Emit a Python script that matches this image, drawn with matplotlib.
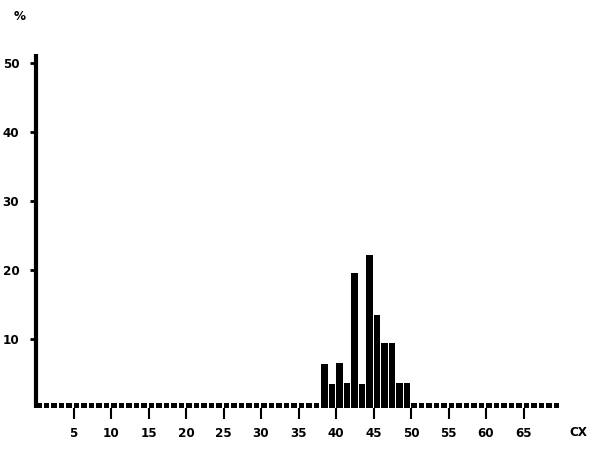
import matplotlib
matplotlib.use("Agg")
import matplotlib.pyplot as plt
import numpy as np

# Data: percentage per 1-cm class (class start in cm)
class_start = list(range(38, 50))
percent = [6.4, 3.5, 6.5, 3.6, 19.6, 3.5, 22.2, 13.5, 9.4, 9.4, 3.6, 3.6]
empty_classes = [c for c in range(0, 70) if c not in class_start]

x_ticks = [5, 10, 15, 20, 25, 30, 35, 40, 45, 50, 55, 60, 65]
y_ticks = [10, 20, 30, 40, 50]

plt.rcParams['font.family'] = ['DejaVu Sans']
plt.rcParams['font.stretch'] = 'condensed'

W, H = 599, 449
fig = plt.figure(figsize=(W / 100, H / 100), dpi=100)
left_px, base_px = 36, 408
ax = fig.add_axes([left_px / W, (H - base_px) / H, (W - left_px) / W, base_px / H])
px_per_cm = 7.5
px_per_pct = 6.9
ax.set_xlim(0, (W - left_px) / px_per_cm)
ax.set_ylim(0, base_px / px_per_pct)

# main bars
ax.bar(class_start, percent, width=0.9, align='edge', color='black', linewidth=0)
# empty classes drawn as small boxes along the baseline
ax.bar(empty_classes, [0.7] * len(empty_classes), width=0.75, align='edge',
       color='black', linewidth=0)

# y axis line
ax.plot([0, 0], [0, 51.3], color='black', lw=3, clip_on=False, solid_capstyle='butt')

for s in ax.spines.values():
    s.set_visible(False)

ax.set_xticks(x_ticks)
ax.set_xticklabels([str(t) for t in x_ticks], fontsize=9.5, fontweight='bold')
ax.tick_params(axis='x', length=8, width=1.5, pad=6, direction='out')
ax.set_yticks(y_ticks)
ax.set_yticklabels([str(t) for t in y_ticks], fontsize=9.5, fontweight='bold')
ax.tick_params(axis='y', length=4, width=2, pad=8, direction='out')

fig.text(20 / W, 1 - 16 / H, '%', fontsize=9.5, fontweight='bold', ha='center', va='center')
fig.text(578 / W, 1 - 433 / H, 'CX', fontsize=9.5, fontweight='bold', ha='center', va='center')

fig.savefig('out.png', dpi=100, facecolor='white')
